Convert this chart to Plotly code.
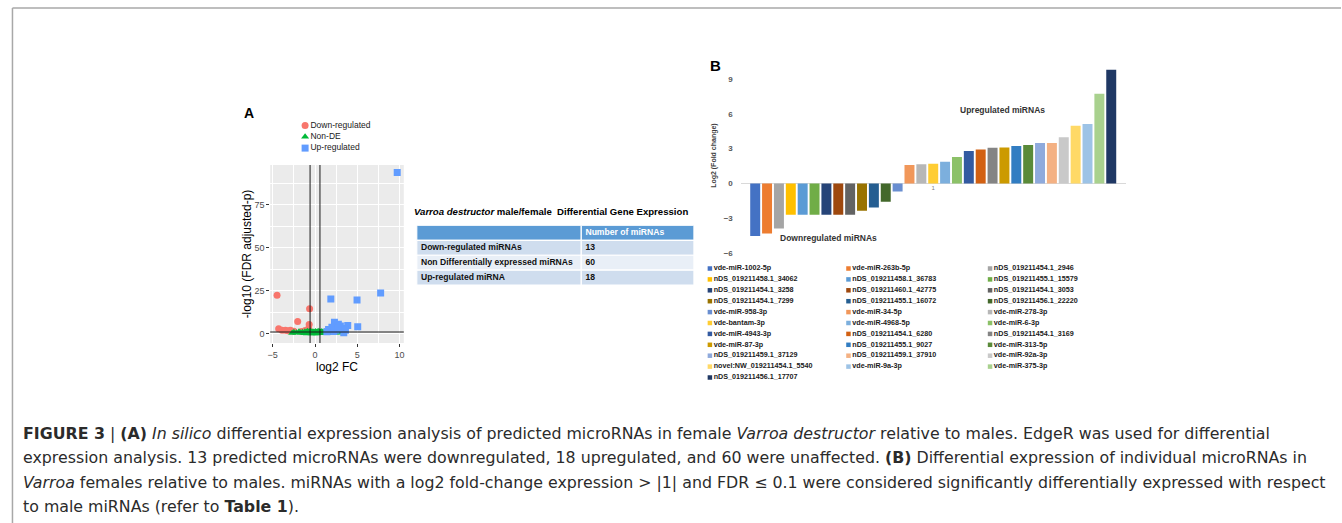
import plotly.graph_objects as go

W, H = 1342, 523

# ---------------- Panel A data (volcano plot) ----------------
down_x = [-4.49, -4.3, -3.9, -3.5, -3.2, -2.9, -2.5, -2.05, -1.6, -1.16, -0.75, -0.69, -0.64]
down_y = [22.4, 2.9, 2.1, 2.0, 1.8, 2.1, 1.5, 7.1, 1.3, 1.9, 3.0, 5.4, 14.5]

up_x = [9.72, 7.76, 1.87, 4.97, 5.05, 2.3, 2.76, 3.87, 1.6, 2.0, 3.2, 3.4, 2.5, 3.0, 3.6, 2.2, 1.4, 2.7]
up_y = [94.0, 23.8, 20.3, 19.7, 4.1, 6.7, 5.5, 4.8, 2.5, 3.8, 3.0, 0.6, 2.0, 4.5, 2.0, 1.3, 1.2, 3.2]

nonde_x = [-2.7, -2.5, -2.2, -1.9, -1.7, -1.5, -1.3, -1.2, -1.1, -1.0,
           -0.95, -0.9, -0.85, -0.8, -0.7, -0.65, -0.6, -0.55, -0.5, -0.45,
           -0.4, -0.35, -0.3, -0.25, -0.2, -0.15, -0.1, -0.05, 0.0, 0.05,
           0.1, 0.15, 0.2, 0.25, 0.3, 0.35, 0.4, 0.45, 0.5, 0.55,
           0.6, 0.7, 0.8, 0.9, 1.0, 1.1, 1.2, 1.3, 1.4, 1.5,
           1.6, 1.7, 1.8, 1.9, 2.0, 2.1, 2.2, 2.4, 2.6, 2.8]
nonde_y = [0.4, 0.9, 0.6, 1.1, 0.5, 0.8, 0.3, 1.2, 0.6, 0.9,
           0.2, 1.4, 0.5, 0.8, 1.1, 0.3, 0.7, 1.6, 0.4, 0.9,
           0.2, 1.2, 0.6, 0.3, 1.0, 0.5, 0.8, 0.2, 0.6, 1.3,
           0.4, 0.9, 0.1, 0.7, 1.1, 0.3, 0.6, 1.5, 0.4, 0.8,
           1.0, 0.5, 1.3, 0.7, 0.3, 1.1, 0.6, 0.9, 1.4, 0.5,
           0.8, 1.2, 0.4, 1.0, 0.6, 1.3, 0.9, 0.7, 1.1, 0.5]

a_groups = ["Down-regulated", "Non-DE", "Up-regulated"]
a_colors = ["#F8766D", "#00BA38", "#619CFF"]
a_symbols = ["circle", "triangle-up", "square"]
fc_threshold = 0.585
fdr_line = 1.0

# ---------------- Table data ----------------
table_title = "<b><i>Varroa destructor</i> male/female  Differential Gene Expression</b>"
table_header = ["", "Number of miRNAs"]
table_rows = ["Down-regulated miRNAs", "Non Differentially expressed miRNAs", "Up-regulated miRNA"]
table_counts = [len(down_x), len(nonde_x), len(up_x)]

# ---------------- Panel B data (bar chart) ----------------
mirna_names = [
    "vde-miR-1002-5p", "vde-miR-263b-5p", "nDS_019211454.1_2946",
    "nDS_019211458.1_34062", "nDS_019211458.1_36783", "nDS_019211455.1_15579",
    "nDS_019211454.1_3258", "nDS_019211460.1_42775", "nDS_019211454.1_3053",
    "nDS_019211454.1_7299", "nDS_019211455.1_16072", "nDS_019211456.1_22220",
    "vde-miR-958-3p", "vde-miR-34-5p", "vde-miR-278-3p",
    "vde-bantam-3p", "vde-miR-4968-5p", "vde-miR-6-3p",
    "vde-miR-4943-3p", "nDS_019211454.1_6280", "nDS_019211454.1_3169",
    "vde-miR-87-3p", "nDS_019211455.1_9027", "vde-miR-313-5p",
    "nDS_019211459.1_37129", "nDS_019211459.1_37910", "vde-miR-92a-3p",
    "novel:NW_019211454.1_5540", "vde-miR-9a-3p", "vde-miR-375-3p",
    "nDS_019211456.1_17707",
]
log2_fc = [-4.54, -4.31, -3.88, -2.70, -2.70, -2.70, -2.70, -2.70, -2.70, -2.36,
           -2.07, -1.58, -0.69, 1.58, 1.64, 1.70, 1.87, 2.27, 2.79, 2.93,
           3.07, 3.10, 3.22, 3.30, 3.48, 3.48, 3.97, 4.97, 5.11, 7.73, 9.80]
bar_colors = ["#4472C4", "#ED7D31", "#A5A5A5", "#FFC000", "#5B9BD5", "#70AD47",
              "#264478", "#9E480E", "#636363", "#997300", "#255E91", "#43682B",
              "#698ED0", "#F1975A", "#B7B7B7", "#FFCD33", "#7CAFDD", "#8CC168",
              "#335AA1", "#D26012", "#848484", "#CC9A00", "#327DC2", "#5A8A39",
              "#8FAADC", "#F4B183", "#C9C9C9", "#FFD966", "#9DC3E6", "#A9D18E",
              "#203864"]
category = ["1"]
b_yticks = [-6, -3, 0, 3, 6, 9]

caption_lines = [
    "<b>FIGURE 3</b> | <b>(A)</b> <i>In silico</i> differential expression analysis of predicted microRNAs in female <i>Varroa destructor</i> relative to males. EdgeR was used for differential",
    "expression analysis. 13 predicted microRNAs were downregulated, 18 upregulated, and 60 were unaffected. <b>(B)</b> Differential expression of individual microRNAs in",
    "<i>Varroa</i> females relative to males. miRNAs with a log2 fold-change expression &gt; |1| and FDR ≤ 0.1 were considered significantly differentially expressed with respect",
    "to male miRNAs (refer to <b>Table 1</b>).",
]


def fx(px):
    return px / W


def fy(py):
    return 1 - py / H


SANS = "Liberation Sans, Arial, sans-serif"
CAPTION_FONT = "DejaVu Sans, Verdana, sans-serif"

fig = go.Figure()

# ---- Panel A traces ----
for name, xs, ys, col, sym in zip(a_groups, [down_x, nonde_x, up_x], [down_y, nonde_y, up_y],
                                  a_colors, a_symbols):
    fig.add_trace(go.Scatter(x=xs, y=ys, mode="markers", name=name, showlegend=False,
                             marker=dict(color=col, symbol=sym, size=7, line=dict(width=0)),
                             xaxis="x", yaxis="y"))

# ---- Panel B bars ----
for name, v, col in zip(mirna_names, log2_fc, bar_colors):
    fig.add_trace(go.Bar(x=category, y=[v], name=name, marker=dict(color=col, line=dict(width=0)),
                         showlegend=False, xaxis="x2", yaxis="y2"))

# ---- Custom legends on a pixel overlay axis ----
LA_X, LA_Y0, LA_DY = 303, 125.5, 11.3
fig.add_trace(go.Scatter(
    x=[LA_X] * len(a_groups), y=[LA_Y0 + i * LA_DY for i in range(len(a_groups))],
    mode="markers+text", text=a_groups, textposition="middle right",
    textfont=dict(family=SANS, size=8.5, color="#1a1a1a"),
    marker=dict(color=a_colors, symbol=a_symbols, size=7, line=dict(width=0)),
    showlegend=False, xaxis="x3", yaxis="y3", cliponaxis=False))

LB_COLS = [709, 848, 990]
LB_Y0, LB_DY = 268.5, 10.9
fig.add_trace(go.Scatter(
    x=[LB_COLS[i % 3] for i in range(len(mirna_names))],
    y=[LB_Y0 + (i // 3) * LB_DY for i in range(len(mirna_names))],
    mode="markers+text", text=mirna_names, textposition="middle right",
    textfont=dict(family=SANS, size=7.2, color="#1a1a1a", weight="bold"),
    marker=dict(color=bar_colors, symbol="square", size=4.5, line=dict(width=0)),
    showlegend=False, xaxis="x3", yaxis="y3", cliponaxis=False))

# ---- Table (drawn as horizontal bars on its own axis) ----
COL_EDGES = [0.0, 165 / 278, 1.0]
ROW_FILLS = ["#5B9BD5", "#CFDDEE", "#E9EFF7", "#CFDDEE"]
cells_text = [[table_header[0]] + table_rows, [table_header[1]] + [str(c) for c in table_counts]]
n_rows = len(table_rows) + 1
tb_y, tb_base, tb_len, tb_col = [], [], [], []
for r in range(n_rows):
    for c in range(2):
        tb_y.append(r)
        tb_base.append(COL_EDGES[c])
        tb_len.append(COL_EDGES[c + 1] - COL_EDGES[c])
        tb_col.append(ROW_FILLS[r])
fig.add_trace(go.Bar(y=tb_y, x=tb_len, base=tb_base, orientation="h", width=[1] * len(tb_y),
                     marker=dict(color=tb_col, line=dict(color="white", width=1.2)),
                     showlegend=False, xaxis="x4", yaxis="y4", hoverinfo="skip"))
txt_x, txt_y, txt_s, txt_c = [], [], [], []
for c in range(2):
    for r in range(n_rows):
        txt_x.append(COL_EDGES[c] + 0.015)
        txt_y.append(r)
        txt_s.append("<b>%s</b>" % cells_text[c][r])
        txt_c.append("white" if r == 0 else "#111111")
fig.add_trace(go.Scatter(x=txt_x, y=txt_y, mode="text", text=txt_s, textposition="middle right",
                         textfont=dict(family=SANS, size=8.6, color=txt_c),
                         showlegend=False, xaxis="x4", yaxis="y4", cliponaxis=False, hoverinfo="skip"))

axis_font_a = dict(family=SANS, size=9, color="#4D4D4D")
fig.update_layout(
    width=W, height=H, margin=dict(l=0, r=0, t=0, b=0),
    paper_bgcolor="white", plot_bgcolor="rgba(0,0,0,0)",
    barmode="group", bargap=0.044, bargroupgap=0.16,
    showlegend=False,
    xaxis=dict(domain=[fx(268), fx(402)], range=[-5.3, 10.5], anchor="y",
               tickmode="linear", tick0=0, dtick=5, showgrid=True, gridcolor="white", gridwidth=1,
               minor=dict(tick0=0, dtick=2.5, showgrid=True, gridcolor="white", gridwidth=0.5),
               zeroline=False, showline=False, ticks="outside", ticklen=3, tickcolor="#333333",
               tickfont=axis_font_a,
               title=dict(text="log2 FC", font=dict(family=SANS, size=12, color="black"), standoff=1)),
    yaxis=dict(domain=[fy(343), fy(165)], range=[-5.4, 98.3], anchor="x",
               tickmode="linear", tick0=0, dtick=25, showgrid=True, gridcolor="white", gridwidth=1,
               minor=dict(tick0=0, dtick=12.5, showgrid=True, gridcolor="white", gridwidth=0.5),
               zeroline=False, showline=False, ticks="outside", ticklen=3, tickcolor="#333333",
               tickfont=axis_font_a,
               title=dict(text="-log10 (FDR adjusted-p)", font=dict(family=SANS, size=12, color="black"),
                          standoff=0)),
    xaxis2=dict(domain=[fx(740), fx(1126)], type="category", anchor="free", position=fy(183.4),
                showgrid=False, zeroline=False, showline=False, ticks="",
                tickfont=dict(family=SANS, size=6, color="#7f7f7f")),
    yaxis2=dict(domain=[fy(260), fy(65)], range=[-6.6, 10.2], anchor="x2",
                tickvals=b_yticks, showgrid=False, zeroline=True, zerolinecolor="#D9D9D9",
                zerolinewidth=1, showline=False, ticks="", ticklabelstandoff=7,
                tickfont=dict(family=SANS, size=8, color="#595959", weight="bold")),
    xaxis3=dict(domain=[0, 1], range=[0, W], visible=False, anchor="y3", fixedrange=True),
    yaxis3=dict(domain=[0, 1], range=[H, 0], visible=False, anchor="x3", fixedrange=True),
    xaxis4=dict(domain=[fx(415), fx(693)], range=[0, 1], visible=False, anchor="y4", fixedrange=True),
    yaxis4=dict(domain=[fy(285), fy(225.5)], range=[n_rows - 0.5, -0.5], visible=False, anchor="x4",
                fixedrange=True),
)

shapes = [
    dict(type="line", xref="paper", yref="paper", x0=fx(9.5), x1=1, y0=fy(8), y1=fy(8),
         line=dict(color="#A8A8A8", width=1.5)),
    dict(type="line", xref="paper", yref="paper", x0=fx(9.5), x1=fx(9.5), y0=fy(8), y1=0,
         line=dict(color="#A8A8A8", width=1.5)),
    dict(type="rect", xref="x domain", yref="y domain", x0=0, x1=1, y0=0, y1=1,
         fillcolor="#EBEBEB", line=dict(width=0), layer="below"),
    dict(type="line", xref="x", yref="y domain", x0=-fc_threshold, x1=-fc_threshold, y0=0, y1=1,
         line=dict(color="#1a1a1a", width=1)),
    dict(type="line", xref="x", yref="y domain", x0=fc_threshold, x1=fc_threshold, y0=0, y1=1,
         line=dict(color="#1a1a1a", width=1)),
    dict(type="line", xref="x domain", yref="y", x0=0, x1=1, y0=fdr_line, y1=fdr_line,
         line=dict(color="#1a1a1a", width=1)),
]
fig.update_layout(shapes=shapes)

ann = [
    dict(text="<b>A</b>", x=fx(240), y=fy(113), xanchor="left", yanchor="middle",
         font=dict(family=SANS, size=14, color="black")),
    dict(text="<b>B</b>", x=fx(707), y=fy(65), xanchor="left", yanchor="middle",
         font=dict(family=SANS, size=15, color="black")),
    dict(text=table_title, x=fx(410), y=fy(212), xanchor="left", yanchor="middle",
         font=dict(family=SANS, size=9.6, color="black")),
    dict(text="<b>Log2 (Fold change)</b>", x=fx(713), y=fy(155), xanchor="center", yanchor="middle",
         textangle=-90, font=dict(family=SANS, size=7, color="#404040")),
    dict(text="<b>Upregulated miRNAs</b>", x=fx(1002), y=fy(110), xanchor="center", yanchor="middle",
         font=dict(family=SANS, size=8.5, color="#333333")),
    dict(text="<b>Downregulated miRNAs</b>", x=fx(828), y=fy(238.5), xanchor="center", yanchor="middle",
         font=dict(family=SANS, size=8.5, color="#333333")),
]
cap_y = [433, 457.5, 482, 506.5]
for line, yy in zip(caption_lines, cap_y):
    ann.append(dict(text=line, x=fx(18), y=fy(yy), xanchor="left", yanchor="middle",
                    font=dict(family=CAPTION_FONT, size=15.8, color="#2b2b2b")))
for a in ann:
    a.update(xref="paper", yref="paper", showarrow=False)
fig.update_layout(annotations=ann)

fig.write_html("out.html", config={"displayModeBar": False},
               post_script="document.body.style.margin='0';document.body.style.overflow='hidden';")
